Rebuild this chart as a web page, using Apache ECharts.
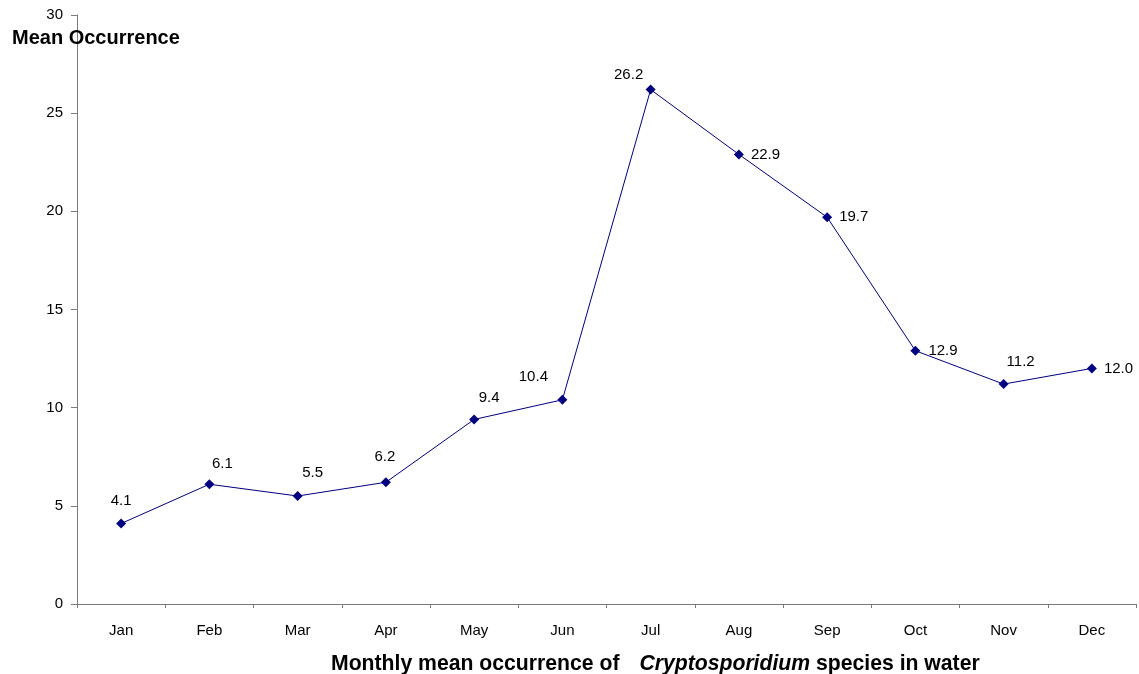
<!DOCTYPE html>
<html>
<head>
<meta charset="utf-8">
<script src="https://cdn.jsdelivr.net/npm/echarts@6/dist/echarts.min.js"></script>
<style>
  html, body { margin: 0; padding: 0; background: #fff; }
  #chart { width: 1139px; height: 674px; }
</style>
</head>
<body>
<div id="chart"></div>
<script>
// Monthly mean occurrence of Cryptosporidium species in water
const months = ['Jan', 'Feb', 'Mar', 'Apr', 'May', 'Jun', 'Jul', 'Aug', 'Sep', 'Oct', 'Nov', 'Dec'];
const meanOccurrence = [4.1, 6.1, 5.5, 6.2, 9.4, 10.4, 26.2, 22.9, 19.7, 12.9, 11.2, 12.0];
const yTicks = [0, 5, 10, 15, 20, 25, 30];

// Where each value label sits relative to its point (centre offsets, or beside it)
const labelPlacement = [
  { position: 'inside', offset: [0, -23] },
  { position: 'inside', offset: [13, -20] },
  { position: 'inside', offset: [15, -23] },
  { position: 'inside', offset: [-1, -25] },
  { position: 'inside', offset: [15, -22] },
  { position: 'inside', offset: [-29, -23] },
  { position: 'inside', offset: [-22, -15] },
  { position: 'right', offset: [2, 0] },
  { position: 'right', offset: [2, 0] },
  { position: 'right', offset: [3, 0] },
  { position: 'inside', offset: [17, -22] },
  { position: 'right', offset: [2, 0] }
];

const FONT = '"Liberation Sans", Arial, sans-serif';
const axisColor = '#7a7a7a';

const chart = echarts.init(document.getElementById('chart'), null, { renderer: 'canvas' });

chart.setOption({
  backgroundColor: '#ffffff',
  animation: false,
  grid: { left: 77, right: 3, top: 15, bottom: 70, containLabel: false },
  title: [
    {
      text: 'Mean Occurrence',
      left: 7, top: 23,
      textStyle: { fontFamily: FONT, fontSize: 20, fontWeight: 'bold', color: '#000' }
    },
    {
      text: '{n|Monthly mean occurrence of}{i|Cryptosporidium}{n| species in water}',
      left: 326, top: 649,
      textStyle: {
        fontFamily: FONT,
        rich: {
          n: { fontFamily: FONT, fontSize: 21.2, fontWeight: 'bold', color: '#000' },
          i: { fontFamily: FONT, fontSize: 21.2, fontWeight: 'bold', fontStyle: 'italic', color: '#000', padding: [0, 0, 0, 20] }
        }
      }
    }
  ],
  xAxis: {
    type: 'category',
    data: months,
    boundaryGap: true,
    axisLine: { lineStyle: { color: axisColor, width: 1 } },
    axisTick: { show: true, length: 4, lineStyle: { color: axisColor } },
    axisLabel: { fontFamily: FONT, fontSize: 15, color: '#000', margin: 19 },
    splitLine: { show: false }
  },
  yAxis: {
    type: 'value',
    min: yTicks[0],
    max: yTicks[yTicks.length - 1],
    interval: yTicks[1] - yTicks[0],
    axisLine: { show: true, lineStyle: { color: axisColor, width: 1 } },
    axisTick: { show: true, length: 6, lineStyle: { color: axisColor } },
    axisLabel: { fontFamily: FONT, fontSize: 15, color: '#000', margin: 14 },
    splitLine: { show: false }
  },
  series: [{
    type: 'line',
    data: meanOccurrence.map((v, i) => ({
      value: v,
      label: labelPlacement[i]
    })),
    symbol: 'diamond',
    symbolSize: 10,
    lineStyle: { color: '#000080', width: 1 },
    itemStyle: { color: '#000080' },
    label: {
      show: true,
      fontFamily: FONT,
      fontSize: 15,
      color: '#000',
      formatter: p => p.value.toFixed(1)
    }
  }]
});
</script>
</body>
</html>
